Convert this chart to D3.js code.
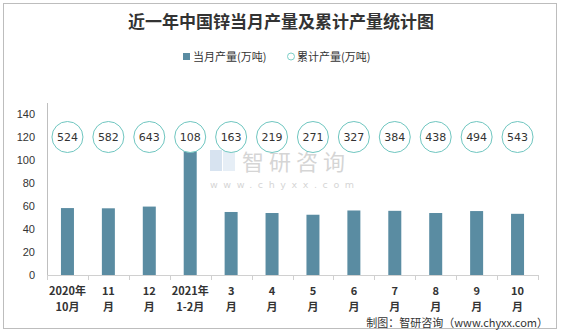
<!DOCTYPE html>
<html><head><meta charset="utf-8">
<script src="https://cdn.jsdelivr.net/npm/d3@7"></script>
<style>body{margin:0;background:#fff}svg{display:block}</style>
</head><body>
<script>
const categories = [["2020年","10月"],["11","月"],["12","月"],["2021年","1-2月"],["3","月"],["4","月"],["5","月"],["6","月"],["7","月"],["8","月"],["9","月"],["10","月"]];
const monthly = [58.2, 58.0, 59.5, 108.0, 54.8, 53.9, 52.4, 56.1, 55.8, 53.9, 55.6, 53.2];
const cumulative = [524, 582, 643, 108, 163, 219, 271, 327, 384, 438, 494, 543];
const yTicks = [0, 20, 40, 60, 80, 100, 120, 140];
const labelLevel = 120;

const W = 561, H = 336;
const svg = d3.select("body").append("svg").attr("width", W).attr("height", H);
const font = "'Noto Sans CJK SC', 'Noto Sans', sans-serif";

svg.append("rect").attr("x", 3.5).attr("y", 3.5).attr("width", 553).attr("height", 325)
  .attr("fill", "#fff").attr("stroke", "#bdbdbd").attr("stroke-width", 1);

svg.append("text").attr("x", 281).attr("y", 28).attr("text-anchor", "middle")
  .attr("font-family", font).attr("font-weight", "bold").attr("font-size", 17)
  .attr("fill", "#333").text("近一年中国锌当月产量及累计产量统计图");

// legend
const lg = svg.append("g").attr("font-family", font).attr("font-size", 11).attr("fill", "#333");
lg.append("rect").attr("x", 183).attr("y", 53).attr("width", 7).attr("height", 7).attr("fill", "#5a8ca2");
lg.append("text").attr("x", 193).attr("y", 61).text("当月产量(万吨)");
lg.append("circle").attr("cx", 291).attr("cy", 56.5).attr("r", 3.5).attr("fill", "#fff").attr("stroke", "#7ccfc8").attr("stroke-width", 1);
lg.append("text").attr("x", 297).attr("y", 61).text("累计产量(万吨)");

const x = d3.scaleBand().domain(d3.range(categories.length)).range([47, 538]);
const y = d3.scaleLinear().domain([0, 140]).range([275, 114]);

// watermark
const wm = svg.append("g").attr("opacity", 0.35);
wm.append("rect").attr("x", 210).attr("y", 150).attr("width", 12).attr("height", 21).attr("fill", "#8fb1d6");
wm.append("rect").attr("x", 223).attr("y", 150).attr("width", 12).attr("height", 21).attr("fill", "#b9cfe6");
wm.append("text").attr("x", 242).attr("y", 170).attr("font-family", font).attr("font-size", 22)
  .attr("letter-spacing", "5").attr("fill", "#888").text("智研咨询");
wm.append("text").attr("x", 210).attr("y", 188).attr("font-family", "'DejaVu Sans', sans-serif").attr("font-size", 9.5)
  .attr("letter-spacing", "5.6").attr("fill", "#888").text("www.chyxx.com");

// y axis
const yAxis = d3.axisLeft(y).tickValues(yTicks).tickSize(0).tickPadding(12);
const yg = svg.append("g").attr("transform", "translate(47,0)").call(yAxis);
yg.select(".domain").remove();
yg.selectAll("text").attr("font-family", "'Liberation Sans', sans-serif").attr("font-size", 11).attr("fill", "#333");
svg.append("line").attr("x1", 47.5).attr("x2", 47.5).attr("y1", 103).attr("y2", 275).attr("stroke", "#bfbfbf");

// bars
svg.append("g").selectAll("rect").data(monthly).join("rect")
  .attr("x", (d, i) => x(i) + x.bandwidth() / 2 - 6.5)
  .attr("width", 13)
  .attr("y", d => y(d))
  .attr("height", d => y(0) - y(d))
  .attr("fill", "#5a8ca2");

// x axis
svg.append("line").attr("x1", 47).attr("x2", 538).attr("y1", 275.5).attr("y2", 275.5).attr("stroke", "#d0d0d0");
svg.append("g").selectAll("line").data(d3.range(categories.length + 1)).join("line")
  .attr("x1", i => Math.round(47 + i * x.step()) + 0.5).attr("x2", i => Math.round(47 + i * x.step()) + 0.5)
  .attr("y1", 275).attr("y2", 280).attr("stroke", "#d0d0d0");

const xl = svg.append("g").attr("font-family", font).attr("font-weight", "bold").attr("font-size", 11).attr("fill", "#333").attr("text-anchor", "middle");
categories.forEach((c, i) => {
  const cx = x(i) + x.bandwidth() / 2;
  xl.append("text").attr("x", cx).attr("y", 295).text(c[0]);
  xl.append("text").attr("x", cx).attr("y", 311).text(c[1]);
});

// cumulative labels in circles
const cg = svg.append("g");
cumulative.forEach((v, i) => {
  const cx = x(i) + x.bandwidth() / 2;
  cg.append("circle").attr("cx", cx).attr("cy", y(labelLevel)).attr("r", 15.5)
    .attr("fill", "#fff").attr("stroke", "#6fc6c0").attr("stroke-width", 1);
  cg.append("text").attr("x", cx).attr("y", y(labelLevel) + 4).attr("text-anchor", "middle")
    .attr("font-family", "'DejaVu Sans', sans-serif").attr("font-size", 11).attr("fill", "#333").text(v);
});

svg.append("text").attr("x", 548).attr("y", 327).attr("text-anchor", "end")
  .attr("font-family", font).attr("font-size", 11).attr("fill", "#333")
  .text("制图：智研咨询（www.chyxx.com）");
</script>
</body></html>
